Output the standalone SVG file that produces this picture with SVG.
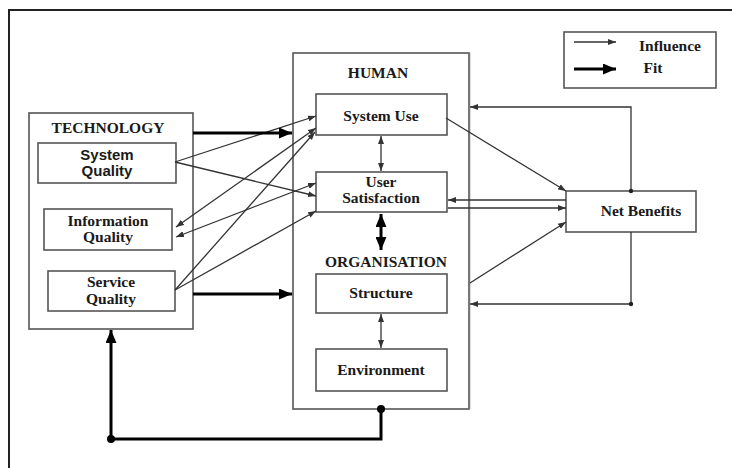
<svg xmlns="http://www.w3.org/2000/svg" width="732" height="468" viewBox="0 0 732 468">
<style>
  .box{fill:#fff;stroke:#555;stroke-width:1.6}
  .t{font-family:"Liberation Serif","Times New Roman",serif;font-weight:bold;font-size:15.5px;fill:#1a1a1a;text-anchor:middle}
  .s{font-family:"Liberation Sans",Arial,sans-serif;font-weight:bold;font-size:15px;fill:#1a1a1a;text-anchor:middle}
  .thin{fill:none;stroke:#333;stroke-width:1.3}
  .thick{fill:none;stroke:#000;stroke-width:3}
</style>
<defs>
  <marker id="a" markerUnits="userSpaceOnUse" markerWidth="9" markerHeight="7" refX="8" refY="3.5" orient="auto-start-reverse">
    <path d="M0,0.5 L8,3.5 L0,6.5 z" fill="#333"/>
  </marker>
  <marker id="A" markerUnits="userSpaceOnUse" markerWidth="14" markerHeight="11" refX="13" refY="5.5" orient="auto-start-reverse">
    <path d="M0,0 L13,5.5 L0,11 z" fill="#000"/>
  </marker>
</defs>
<rect width="732" height="468" fill="#fff"/>
<path d="M9,468 V10 H732" fill="none" stroke="#222" stroke-width="2"/>

<g id="legend">
  <rect class="box" x="564" y="32" width="152" height="56"/>
  <line class="thin" x1="574" y1="42" x2="616" y2="42" marker-end="url(#a)"/>
  <line class="thick" x1="574" y1="69" x2="616" y2="69" marker-end="url(#A)"/>
  <text class="t" x="670" y="51">Influence</text>
  <text class="t" x="653" y="73">Fit</text>
</g>

<g id="technology">
  <rect class="box" x="29" y="113" width="164" height="216"/>
  <text class="t" x="108" y="133">TECHNOLOGY</text>
</g>
<g id="system-quality">
  <rect class="box" x="38" y="143" width="138" height="40"/>
  <text class="s" x="107" y="160">System</text>
  <text class="s" x="107" y="176">Quality</text>
</g>
<g id="information-quality">
  <rect class="box" x="44" y="209" width="128" height="41"/>
  <text class="t" x="108" y="226">Information</text>
  <text class="t" x="108" y="242">Quality</text>
</g>
<g id="service-quality">
  <rect class="box" x="48" y="271" width="127" height="40"/>
  <text class="t" x="111" y="287">Service</text>
  <text class="t" x="111" y="304">Quality</text>
</g>

<g id="human">
  <rect class="box" x="293" y="53" width="176" height="356"/>
  <line x1="469.5" y1="53" x2="469.5" y2="409" stroke="#777" stroke-width="1.5"/>
  <text class="t" x="378" y="78">HUMAN</text>
  <text class="t" x="386" y="267">ORGANISATION</text>
</g>
<g id="system-use">
  <rect class="box" x="316" y="94" width="131" height="41"/>
  <text class="t" x="381" y="121">System Use</text>
</g>
<g id="user-satisfaction">
  <rect class="box" x="316" y="172" width="131" height="40"/>
  <text class="t" x="381" y="187">User</text>
  <text class="t" x="381" y="203">Satisfaction</text>
</g>
<g id="structure">
  <rect class="box" x="316" y="274" width="131" height="39"/>
  <text class="t" x="381" y="298">Structure</text>
</g>
<g id="environment">
  <rect class="box" x="316" y="349" width="131" height="42"/>
  <text class="t" x="381" y="375">Environment</text>
</g>
<g id="net-benefits">
  <rect class="box" x="566" y="191" width="130" height="41"/>
  <text class="t" x="641" y="216">Net Benefits</text>
</g>

<g id="connectors">
  <!-- thin influences -->
  <line class="thin" x1="175" y1="162" x2="316" y2="116" marker-end="url(#a)"/>
  <line class="thin" x1="175" y1="162" x2="316" y2="196" marker-end="url(#a)"/>
  <line class="thin" x1="316" y1="128" x2="176" y2="227" marker-start="url(#a)" marker-end="url(#a)"/>
  <line class="thin" x1="316" y1="183" x2="176" y2="237" marker-start="url(#a)" marker-end="url(#a)"/>
  <line class="thin" x1="175" y1="290" x2="315" y2="132" marker-end="url(#a)"/>
  <line class="thin" x1="175" y1="290" x2="316" y2="211" marker-end="url(#a)"/>
  <line class="thin" x1="381" y1="136" x2="381" y2="171" marker-start="url(#a)" marker-end="url(#a)"/>
  <line class="thin" x1="381" y1="314" x2="381" y2="348" marker-start="url(#a)" marker-end="url(#a)"/>
  <line class="thin" x1="446" y1="118" x2="566" y2="191" marker-end="url(#a)"/>
  <line class="thin" x1="566" y1="200" x2="448" y2="200" marker-end="url(#a)"/>
  <line class="thin" x1="448" y1="208" x2="566" y2="208" marker-end="url(#a)"/>
  <line class="thin" x1="470" y1="283" x2="566" y2="222" marker-end="url(#a)"/>
  <path class="thin" d="M631,191 V107 H470" marker-end="url(#a)"/>
  <path class="thin" d="M631,232 V304 H470" marker-end="url(#a)"/>
  <circle cx="631" cy="191" r="2.2" fill="#222"/>
  <circle cx="631" cy="304" r="2.2" fill="#222"/>
  <!-- thick fits -->
  <line class="thick" x1="193" y1="133" x2="292" y2="133" marker-end="url(#A)"/>
  <line class="thick" x1="193" y1="294" x2="292" y2="294" marker-end="url(#A)"/>
  <line class="thick" x1="381" y1="214" x2="381" y2="250" marker-start="url(#A)" marker-end="url(#A)"/>
  <path class="thick" d="M381,409 V439 H111 V330" marker-end="url(#A)"/>
  <circle cx="381" cy="409" r="4" fill="#000"/>
  <circle cx="111" cy="439" r="4" fill="#000"/>
</g>
</svg>
